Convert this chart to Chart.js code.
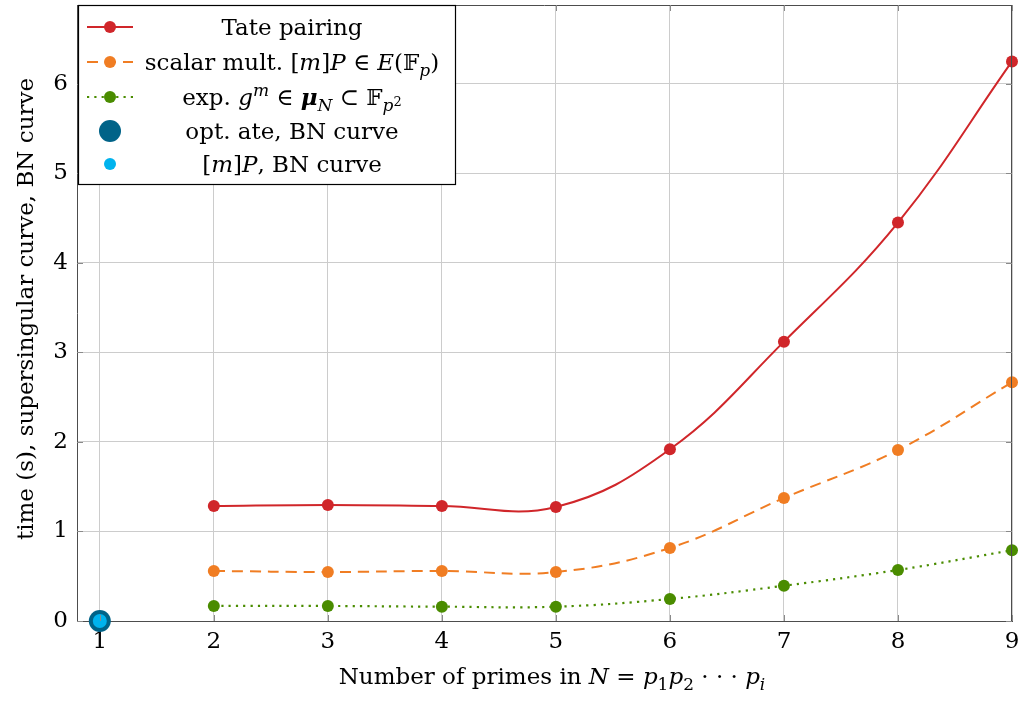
<!DOCTYPE html>
<html>
<head>
<meta charset="utf-8">
<script src="https://cdn.jsdelivr.net/npm/chart.js@4.4.1/dist/chart.umd.min.js"></script>
<style>
  html, body { margin: 0; padding: 0; background: #ffffff; }
  #wrap { width: 1020px; height: 702px; }
</style>
</head>
<body>
<div id="wrap"><canvas id="c" width="1020" height="702"></canvas></div>
<script>
// ---------- data ----------
const primes = [2, 3, 4, 5, 6, 7, 8, 9];
const tatePairing = [1.285, 1.296, 1.285, 1.274, 1.918, 3.12, 4.45, 6.25];
const scalarMult = [0.559, 0.547, 0.559, 0.547, 0.816, 1.374, 1.91, 2.667];
const expG = [0.168, 0.168, 0.160, 0.160, 0.246, 0.394, 0.570, 0.79];
const bnX = [1];
const bnOptAte = [0];
const bnScalar = [0];
const xTickValues = [1, 2, 3, 4, 5, 6, 7, 8, 9];
const yTickValues = [0, 1, 2, 3, 4, 5, 6];
const seriesLabels = [
  'Tate pairing',
  'scalar mult. [m]P ∈ E(𝔽p)',
  'exp. g^m ∈ μN ⊂ 𝔽p²',
  'opt. ate, BN curve',
  '[m]P, BN curve'
];
const xTitle = 'Number of primes in N = p1p2 ··· pi';
const yTitle = 'time (s), supersingular curve, BN curve';

// ---------- style ----------
const FONT = '"DejaVu Serif", "Liberation Serif", serif';
const FS = 23;
const RED = '#d0262a', ORANGE = '#f07d23', GREEN = '#4a8c00', DARKBLUE = '#006388', LIGHTBLUE = '#00b3ee';

// keep the plot area where the reference has it (points may overflow the frame)
const LineCtl = Chart.registry.getController('line');
LineCtl.prototype.getMaxOverflow = function () { return 0; };

function pts(xs, ys) { return xs.map((x, i) => ({ x: x, y: ys[i] })); }

const R = (t) => ({ t, it: false, b: false, s: 1, dy: 0 });
const I = (t) => ({ t, it: true, b: false, s: 1, dy: 0 });
const BI = (t) => ({ t, it: true, b: true, s: 1, dy: 0 });
const SUB = (t, it = true) => ({ t, it, b: false, s: 0.72, dy: 0.28 });
const SUP = (t, it = true) => ({ t, it, b: false, s: 0.72, dy: -0.38 });
const SUBSUP = (t) => ({ t, it: false, b: false, s: 0.55, dy: 0.05 });

const richLegend = [
  [R(seriesLabels[0])],
  [R('scalar mult. ['), I('m'), R(']'), I('P'), R(' ∈ '), I('E'), R('('), R('𝔽'), SUB('p'), R(')')],
  [R('exp. '), I('g'), SUP('m'), R(' ∈ '), BI('μ'), SUB('N'), R(' ⊂ '), R('𝔽'), SUB('p'), SUBSUP('2')],
  [R(seriesLabels[3])],
  [R('['), I('m'), R(']'), I('P'), R(', BN curve')]
];
const richXTitle = [R('Number of primes in '), I('N'), R(' = '), I('p'), SUB('1', false), I('p'), SUB('2', false), R(' · · · '), I('p'), SUB('i')];

function segFont(sg, fs) {
  return (sg.it ? 'italic ' : '') + (sg.b ? 'bold ' : '') + Math.round(fs * sg.s) + 'px ' + FONT;
}
function richWidth(ctx, segs, fs) {
  let w = 0;
  segs.forEach(sg => { ctx.font = segFont(sg, fs); w += ctx.measureText(sg.t).width; });
  return w;
}
function drawRich(ctx, segs, cx, cy, fs) {
  const w = richWidth(ctx, segs, fs);
  let x = cx - w / 2;
  ctx.textBaseline = 'alphabetic';
  ctx.textAlign = 'left';
  const base = cy + fs * 0.33;
  segs.forEach(sg => {
    ctx.font = segFont(sg, fs);
    ctx.fillText(sg.t, x, base + sg.dy * fs);
    x += ctx.measureText(sg.t).width;
  });
}

const decorPlugin = {
  id: 'decor',
  afterDatasetsDraw(chart) {
    const ctx = chart.ctx;
    const a = chart.chartArea;
    const xs = chart.scales.x, ys = chart.scales.y;
    ctx.save();
    ctx.strokeStyle = '#4d4d4d';
    ctx.lineWidth = 1;
    ctx.beginPath();
    ctx.moveTo(a.left, a.top + 0.5); ctx.lineTo(a.right, a.top + 0.5);
    ctx.moveTo(a.right - 0.5, a.top); ctx.lineTo(a.right - 0.5, a.bottom);
    ctx.stroke();
    ctx.strokeStyle = '#8a8a8a';
    ctx.beginPath();
    xTickValues.forEach(v => {
      const px = Math.round(xs.getPixelForValue(v)) + 0.5;
      ctx.moveTo(px, a.bottom); ctx.lineTo(px, a.bottom - 6);
      ctx.moveTo(px, a.top); ctx.lineTo(px, a.top + 6);
    });
    yTickValues.forEach(v => {
      const py = Math.round(ys.getPixelForValue(v)) + 0.5;
      ctx.moveTo(a.left, py); ctx.lineTo(a.left + 6, py);
      ctx.moveTo(a.right, py); ctx.lineTo(a.right - 6, py);
    });
    ctx.stroke();
    ctx.restore();
  },
  afterDraw(chart) {
    const ctx = chart.ctx;
    ctx.save();
    const L = { x: 78, y: 5, w: 378, h: 180 };
    ctx.fillStyle = '#ffffff';
    ctx.fillRect(L.x, L.y, L.w, L.h);
    ctx.strokeStyle = '#000000';
    ctx.lineWidth = 1.2;
    ctx.strokeRect(L.x + 0.5, L.y + 0.5, L.w - 1, L.h - 1);
    const rows = [27, 62, 97, 131, 164];
    const symX = 110, textCX = 292;
    chart.data.datasets.forEach((ds, i) => {
      const y = rows[i];
      if (ds.showLine !== false) {
        ctx.strokeStyle = ds.borderColor;
        ctx.lineWidth = ds.borderWidth;
        ctx.setLineDash(ds.borderDash || []);
        ctx.beginPath();
        ctx.moveTo(87, y); ctx.lineTo(133, y);
        ctx.stroke();
        ctx.setLineDash([]);
      }
      ctx.fillStyle = ds.pointBackgroundColor;
      ctx.beginPath();
      ctx.arc(symX, y, ds.legendRadius, 0, Math.PI * 2);
      ctx.fill();
      ctx.fillStyle = '#000000';
      drawRich(ctx, richLegend[i], textCX, y, FS);
    });
    ctx.fillStyle = '#000000';
    drawRich(ctx, richXTitle, 552, 676, FS);
    ctx.translate(25, 309);
    ctx.rotate(-Math.PI / 2);
    drawRich(ctx, [R(yTitle)], 0, 0, FS);
    ctx.restore();
  }
};

const ctx = document.getElementById('c').getContext('2d');
new Chart(ctx, {
  type: 'line',
  data: {
    datasets: [
      { label: seriesLabels[0], data: pts(primes, tatePairing), borderColor: RED, pointBackgroundColor: RED,
        borderWidth: 2, pointRadius: 6, pointBorderWidth: 0, tension: 0.4, order: 5, legendRadius: 6, clip: false },
      { label: seriesLabels[1], data: pts(primes, scalarMult), borderColor: ORANGE, pointBackgroundColor: ORANGE,
        borderWidth: 2, borderDash: [11, 7], pointRadius: 6, pointBorderWidth: 0, tension: 0.4, order: 4, legendRadius: 6, clip: false },
      { label: seriesLabels[2], data: pts(primes, expG), borderColor: GREEN, pointBackgroundColor: GREEN,
        borderWidth: 2.2, borderDash: [2.2, 5.1], pointRadius: 6, pointBorderWidth: 0, tension: 0.4, order: 3, legendRadius: 6, clip: false },
      { label: seriesLabels[3], data: pts(bnX, bnOptAte), showLine: false, borderColor: DARKBLUE, pointBackgroundColor: DARKBLUE,
        pointRadius: 11, pointBorderWidth: 0, order: 2, legendRadius: 11, clip: false },
      { label: seriesLabels[4], data: pts(bnX, bnScalar), showLine: false, borderColor: LIGHTBLUE, pointBackgroundColor: LIGHTBLUE,
        pointRadius: 7, pointBorderWidth: 0, order: 1, legendRadius: 6, clip: false }
    ]
  },
  options: {
    responsive: false,
    animation: false,
    devicePixelRatio: 1,
    layout: { padding: { top: 5, right: 8, left: 0, bottom: 0 } },
    plugins: { legend: { display: false }, tooltip: { enabled: false } },
    elements: { point: { hoverRadius: 6 } },
    scales: {
      x: {
        type: 'linear', min: 0.8, max: 9,
        afterBuildTicks(s) { s.ticks = xTickValues.map(v => ({ value: v })); },
        afterFit(s) { s.height = 81; s.paddingLeft = 0; s.paddingRight = 0; },
        grid: { color: '#cccccc', lineWidth: 1, drawTicks: false },
        border: { color: '#4d4d4d', width: 1 },
        ticks: { color: '#000', font: { family: FONT, size: FS }, padding: 7, maxRotation: 0,
                 callback: (v) => String(v) }
      },
      y: {
        type: 'linear', min: 0, max: 6.88,
        afterBuildTicks(s) { s.ticks = yTickValues.map(v => ({ value: v })); },
        afterFit(s) { s.width = 77; s.paddingTop = 0; s.paddingBottom = 0; },
        grid: { color: '#cccccc', lineWidth: 1, drawTicks: false },
        border: { color: '#4d4d4d', width: 1 },
        ticks: { color: '#000', font: { family: FONT, size: FS }, padding: 9,
                 callback: (v) => String(v) }
      }
    }
  },
  plugins: [decorPlugin]
});
</script>
</body>
</html>
